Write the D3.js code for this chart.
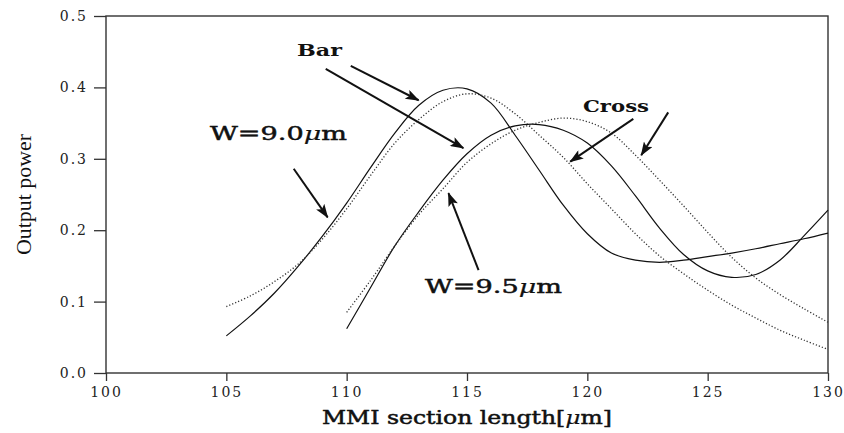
<!DOCTYPE html>
<html lang="en">
<head>
<meta charset="UTF-8">
<title>MMI output power vs section length</title>
<script src="https://d3js.org/d3.v7.min.js"></script>
<style>
    body { margin: 0; background: #fff; }
    .tick text { font-family: "DejaVu Serif", serif; font-size: 14px; letter-spacing: 2px; fill: #222; }
    .tick line { stroke: #333; stroke-width: 1.3; }
    .domain { display: none; }
    .label { font-family: "DejaVu Serif", serif; fill: #111; }
</style>
</head>
<body>
<svg id="chart" width="844" height="433"></svg>
<script>
// MMI section length (um)
const len90 = [105, 106, 107, 108, 109, 110, 111, 112, 113, 114, 115, 116, 117, 118, 119, 120, 121, 122, 123, 124, 125, 126, 127, 128, 129, 130];
const len95 = [110, 111, 112, 113, 114, 115, 116, 117, 118, 119, 120, 121, 122, 123, 124, 125, 126, 127, 128, 129, 130];

// output power, W = 9.0um
const bar90   = [0.052, 0.080, 0.112, 0.150, 0.192, 0.238, 0.288, 0.336, 0.375, 0.396, 0.398, 0.378, 0.333, 0.284, 0.235, 0.195, 0.168, 0.158, 0.155, 0.158, 0.163, 0.168, 0.174, 0.181, 0.188, 0.196];
const cross90 = [0.093, 0.108, 0.128, 0.153, 0.188, 0.230, 0.277, 0.322, 0.355, 0.380, 0.391, 0.385, 0.363, 0.333, 0.302, 0.265, 0.230, 0.195, 0.164, 0.139, 0.116, 0.095, 0.077, 0.060, 0.046, 0.033];

// output power, W = 9.5um
const bar95   = [0.062, 0.120, 0.178, 0.226, 0.270, 0.307, 0.333, 0.346, 0.348, 0.340, 0.322, 0.290, 0.248, 0.203, 0.166, 0.143, 0.134, 0.138, 0.158, 0.192, 0.228];
const cross95 = [0.085, 0.130, 0.178, 0.222, 0.258, 0.295, 0.321, 0.340, 0.351, 0.357, 0.352, 0.336, 0.305, 0.270, 0.234, 0.197, 0.162, 0.133, 0.110, 0.090, 0.071];

const xTicks = [100, 105, 110, 115, 120, 125, 130];
const xTickLabels = ["100", "105", "110", "115", "120", "125", "130"];
const yTicks = [0, 0.1, 0.2, 0.3, 0.4, 0.5];
const yTickLabels = ["0.0", "0.1", "0.2", "0.3", "0.4", "0.5"];

// annotation arrows: [x0, y0, x1, y1] in data units, head at the second point
const arrows = [
    [110.17, 0.430, 112.99, 0.382],
    [109.13, 0.426, 114.85, 0.315],
    [107.80, 0.286, 109.21, 0.218],
    [115.48, 0.144, 114.23, 0.252],
    [121.91, 0.356, 119.29, 0.296],
    [123.36, 0.365, 122.24, 0.305]
];

const svg = d3.select("#chart");
const width = 844, height = 433;
const margin = { top: 16, right: 16, bottom: 60, left: 106 };

const x = d3.scaleLinear().domain([100, 130]).range([margin.left, width - margin.right]);
const y = d3.scaleLinear().domain([0, 0.5]).range([height - margin.bottom, margin.top]);

// frame
svg.append("rect")
    .attr("x", x(100)).attr("y", y(0.5))
    .attr("width", x(130) - x(100)).attr("height", y(0) - y(0.5))
    .attr("fill", "none").attr("stroke", "#333").attr("stroke-width", 1.4);

// axes
svg.append("g")
    .attr("transform", `translate(0,${y(0)})`)
    .call(d3.axisBottom(x).tickValues(xTicks).tickSize(8).tickPadding(6)
        .tickFormat((d, i) => xTickLabels[i]));

svg.append("g")
    .attr("transform", `translate(${x(100)},0)`)
    .call(d3.axisLeft(y).tickValues(yTicks).tickSize(12).tickPadding(6)
        .tickFormat((d, i) => yTickLabels[i]));

// curves
const line = (xs) => d3.line()
    .x((d, i) => x(xs[i]))
    .y(d => y(d))
    .curve(d3.curveCatmullRom.alpha(0.5));

const series = [
    { xs: len90, ys: bar90, dash: null },
    { xs: len90, ys: cross90, dash: "1.2,2" },
    { xs: len95, ys: bar95, dash: null },
    { xs: len95, ys: cross95, dash: "1.2,2" }
];

series.forEach(s => {
    svg.append("path")
        .datum(s.ys)
        .attr("d", line(s.xs))
        .attr("fill", "none")
        .attr("stroke", s.dash ? "#333" : "#111")
        .attr("stroke-width", s.dash ? 1.3 : 1.2)
        .attr("stroke-dasharray", s.dash);
});

// arrows
svg.append("defs").append("marker")
    .attr("id", "head")
    .attr("markerUnits", "userSpaceOnUse")
    .attr("viewBox", "0 0 14 10")
    .attr("refX", 13).attr("refY", 5)
    .attr("markerWidth", 15).attr("markerHeight", 10)
    .attr("orient", "auto")
    .append("path")
    .attr("d", "M0,0 L14,5 L0,10 L3,5 Z")
    .attr("fill", "#111");

svg.selectAll("line.arrow")
    .data(arrows)
    .enter().append("line")
    .attr("class", "arrow")
    .attr("x1", d => x(d[0])).attr("y1", d => y(d[1]))
    .attr("x2", d => x(d[2])).attr("y2", d => y(d[3]))
    .attr("stroke", "#111").attr("stroke-width", 2)
    .attr("marker-end", "url(#head)");

// labels
svg.append("text").attr("class", "label")
    .attr("x", 297).attr("y", 56)
    .attr("font-size", 16).attr("font-weight", "bold")
    .attr("textLength", 45).attr("lengthAdjust", "spacingAndGlyphs")
    .text("Bar");

svg.append("text").attr("class", "label")
    .attr("x", 583).attr("y", 112)
    .attr("font-size", 16).attr("font-weight", "bold")
    .attr("textLength", 66).attr("lengthAdjust", "spacingAndGlyphs")
    .text("Cross");

function wLabel(tx, ty, w) {
    const t = svg.append("text").attr("class", "label")
        .attr("x", tx).attr("y", ty)
        .attr("font-size", 19)
        .attr("stroke", "#111").attr("stroke-width", 0.5)
        .attr("textLength", 137).attr("lengthAdjust", "spacingAndGlyphs");
    t.append("tspan").text(`W=${w}`);
    t.append("tspan").attr("font-style", "italic").attr("stroke-width", 0.2).text("\u03bc");
    t.append("tspan").text("m");
}
wLabel(210, 140, "9.0");
wLabel(425, 293, "9.5");

// axis titles
const xt = svg.append("text").attr("class", "label")
    .attr("x", (x(100) + x(130)) / 2).attr("y", 424)
    .attr("text-anchor", "middle")
    .attr("font-size", 19)
    .attr("stroke", "#111").attr("stroke-width", 0.5)
    .attr("textLength", 290).attr("lengthAdjust", "spacingAndGlyphs");
xt.append("tspan").text("MMI section length[");
xt.append("tspan").attr("font-style", "italic").attr("stroke-width", 0.2).text("\u03bc");
xt.append("tspan").text("m]");

svg.append("text")
    .attr("transform", `translate(31,${(y(0) + y(0.5)) / 2}) rotate(-90)`)
    .attr("text-anchor", "middle")
    .attr("font-family", "'Liberation Serif', 'Times New Roman', serif")
    .attr("font-size", 21)
    .attr("fill", "#111")
    .attr("textLength", 121).attr("lengthAdjust", "spacingAndGlyphs")
    .text("Output power");
</script>
</body>
</html>
